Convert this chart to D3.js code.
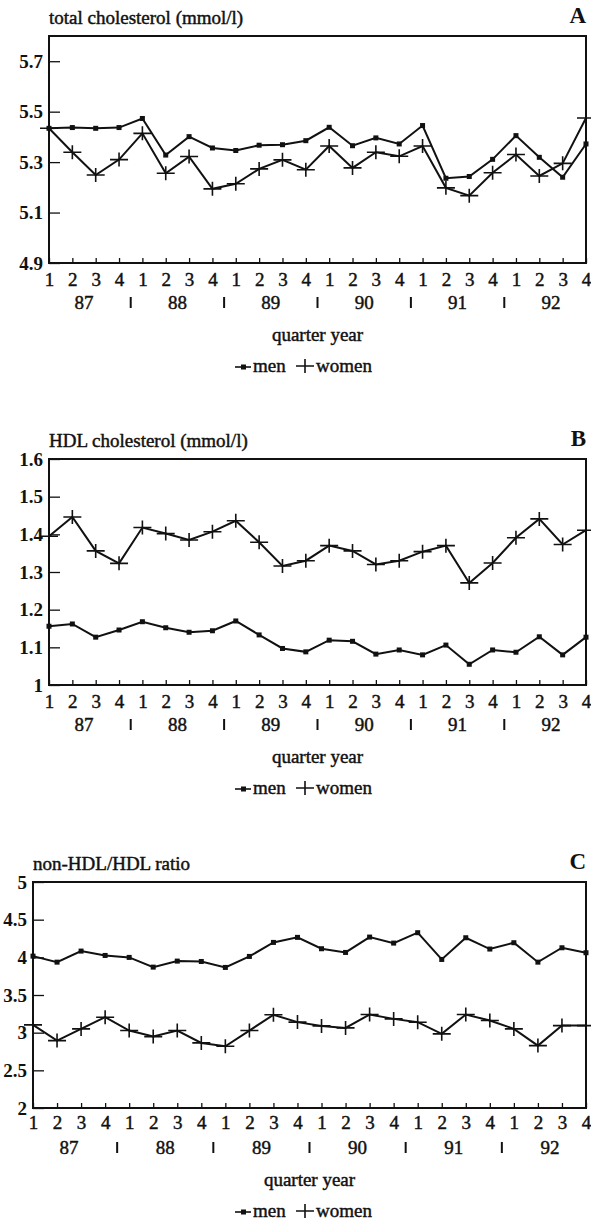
<!DOCTYPE html>
<html>
<head>
<meta charset="utf-8">
<script src="https://cdn.jsdelivr.net/npm/d3@7"></script>
<style>
  body { margin: 0; background: #fff; }
  .heavy { stroke: #111; stroke-width: 0.45px; }
</style>
</head>
<body>
<div id="chart"></div>
<script>
// Data, quarters 1987 Q1 .. 1992 Q4
var quarterLabels = ["1","2","3","4","1","2","3","4","1","2","3","4","1","2","3","4","1","2","3","4","1","2","3","4"];
var yearLabels = ["87", "88", "89", "90", "91", "92"];

var menTotal = [5.434, 5.437, 5.434, 5.437, 5.473, 5.328, 5.401, 5.356, 5.346, 5.367, 5.369, 5.385,
  5.438, 5.365, 5.396, 5.372, 5.445, 5.236, 5.243, 5.311, 5.405, 5.319, 5.240, 5.372];
var womenTotal = [5.434, 5.339, 5.249, 5.310, 5.414, 5.256, 5.322, 5.194, 5.214, 5.273, 5.309, 5.270,
  5.364, 5.277, 5.339, 5.323, 5.364, 5.198, 5.167, 5.258, 5.330, 5.245, 5.295, 5.475];

var menHDL = [1.156, 1.162, 1.127, 1.146, 1.168, 1.152, 1.140, 1.144, 1.170, 1.133, 1.097, 1.088,
  1.119, 1.116, 1.082, 1.093, 1.080, 1.106, 1.055, 1.093, 1.087, 1.128, 1.080, 1.127];
var womenHDL = [1.395, 1.446, 1.356, 1.323, 1.418, 1.402, 1.385, 1.407, 1.436, 1.379, 1.316, 1.330,
  1.370, 1.356, 1.320, 1.330, 1.354, 1.370, 1.271, 1.324, 1.391, 1.441, 1.373, 1.411];

var menRatio = [4.016, 3.936, 4.083, 4.025, 3.999, 3.870, 3.950, 3.945, 3.866, 4.012, 4.198, 4.265,
  4.114, 4.065, 4.269, 4.189, 4.327, 3.972, 4.260, 4.110, 4.194, 3.936, 4.127, 4.061];
var womenRatio = [3.104, 2.895, 3.050, 3.205, 3.028, 2.948, 3.028, 2.864, 2.819, 3.028, 3.237, 3.140,
  3.090, 3.063, 3.241, 3.183, 3.139, 2.984, 3.241, 3.161, 3.050, 2.828, 3.094, 3.094];

var totalTicks = [4.9, 5.1, 5.3, 5.5, 5.7];
var hdlTicks = [1, 1.1, 1.2, 1.3, 1.4, 1.5, 1.6];
var ratioTicks = [2, 2.5, 3, 3.5, 4, 4.5, 5];

var serif = "'Liberation Serif', 'Times New Roman', serif";
var ink = "#111";

var svgWidth = 591;
var svgHeight = 1225;

var svg = d3.select("#chart")
  .append("svg")
  .attr("width", svgWidth)
  .attr("height", svgHeight)
  .attr("font-family", serif);

// one panel = box, axes, two series, labels and legend
function drawPanel(p) {
  var x = d3.scaleLinear()
    .domain([0, quarterLabels.length - 1])
    .range([p.left, p.right]);

  var y = d3.scaleLinear()
    .domain(p.domain)
    .range([p.bottom, p.top]);

  var g = svg.append("g").attr("class", "panel");

  // title and panel letter
  g.append("text")
    .attr("class", "heavy")
    .attr("x", p.left)
    .attr("y", p.top - 12)
    .attr("font-size", 19)
    .attr("fill", ink)
    .text(p.title);

  g.append("text")
    .attr("x", p.right)
    .attr("y", p.top - 13)
    .attr("text-anchor", "end")
    .attr("font-size", 23)
    .attr("font-weight", "bold")
    .attr("fill", ink)
    .text(p.letter);

  // y axis, ticks point inwards
  var leftAxis = d3.axisLeft(y)
    .tickValues(p.ticks)
    .tickSize(-11)
    .tickPadding(6)
    .tickFormat(d3.format(p.fmt));

  var yAxis = g.append("g")
    .attr("transform", `translate(${p.left},0)`)
    .call(leftAxis)
    .attr("font-family", serif)
    .attr("font-size", 19)
    .attr("font-weight", "bold");
  yAxis.select(".domain").remove();
  yAxis.selectAll("line").attr("stroke", ink).attr("stroke-width", 1.3);
  yAxis.selectAll("text").attr("fill", ink);

  // x axis, quarter numbers
  var bottomAxis = d3.axisBottom(x)
    .tickValues(d3.range(quarterLabels.length))
    .tickSize(-5)
    .tickPadding(p.xPad)
    .tickFormat(i => quarterLabels[i]);

  var xAxis = g.append("g")
    .attr("transform", `translate(0,${p.bottom})`)
    .call(bottomAxis)
    .attr("font-family", serif)
    .attr("font-size", 19);
  xAxis.select(".domain").remove();
  xAxis.selectAll("line").attr("stroke", ink).attr("stroke-width", 1.3);
  xAxis.selectAll("text").attr("fill", ink).attr("class", "heavy");

  // frame
  g.append("rect")
    .attr("x", p.left)
    .attr("y", p.top)
    .attr("width", p.right - p.left)
    .attr("height", p.bottom - p.top)
    .attr("fill", "none")
    .attr("stroke", ink)
    .attr("stroke-width", 2);

  // years row with separators
  g.selectAll(".year")
    .data(yearLabels)
    .enter()
    .append("text")
    .attr("class", "year heavy")
    .attr("x", (d, i) => x(i * 4 + 1.5))
    .attr("y", p.bottom + 46)
    .attr("text-anchor", "middle")
    .attr("font-size", 19)
    .attr("fill", ink)
    .text(d => d);

  g.selectAll(".sep")
    .data(yearLabels.slice(1))
    .enter()
    .append("line")
    .attr("class", "sep")
    .attr("x1", (d, i) => x(i * 4 + 3.5))
    .attr("x2", (d, i) => x(i * 4 + 3.5))
    .attr("y1", p.bottom + 34)
    .attr("y2", p.bottom + 45)
    .attr("stroke", ink)
    .attr("stroke-width", 2);

  g.append("text")
    .attr("class", "heavy")
    .attr("x", (p.left + p.right) / 2)
    .attr("y", p.bottom + 78)
    .attr("text-anchor", "middle")
    .attr("font-size", 19)
    .attr("fill", ink)
    .text("quarter year");

  var line = d3.line()
    .x((d, i) => x(i))
    .y(d => y(d));

  // men: line + small squares
  g.append("path")
    .datum(p.men)
    .attr("d", line)
    .attr("fill", "none")
    .attr("stroke", ink)
    .attr("stroke-width", 2);

  g.selectAll(".menPt")
    .data(p.men)
    .enter()
    .append("rect")
    .attr("class", "menPt")
    .attr("x", (d, i) => x(i) - 2.5)
    .attr("y", d => y(d) - 2.5)
    .attr("width", 5)
    .attr("height", 5)
    .attr("fill", ink);

  // women: line + plus signs
  g.append("path")
    .datum(p.women)
    .attr("d", line)
    .attr("fill", "none")
    .attr("stroke", ink)
    .attr("stroke-width", 2);

  g.selectAll(".womenPt")
    .data(p.women)
    .enter()
    .append("path")
    .attr("class", "womenPt")
    .attr("transform", (d, i) => `translate(${x(i)},${y(d)})`)
    .attr("d", "M-9,0H9M0,-7V7")
    .attr("stroke", ink)
    .attr("stroke-width", 1.6);

  // legend
  var lg = g.append("g").attr("transform", `translate(235,${p.bottom + 109})`);
  lg.append("line")
    .attr("x1", 0).attr("x2", 16)
    .attr("y1", -5).attr("y2", -5)
    .attr("stroke", ink).attr("stroke-width", 1.6);
  lg.append("rect")
    .attr("x", 6).attr("y", -7.5)
    .attr("width", 5).attr("height", 5)
    .attr("fill", ink);
  lg.append("text")
    .attr("class", "heavy")
    .attr("x", 18).attr("y", 0)
    .attr("font-size", 19)
    .attr("fill", ink)
    .text("men");
  lg.append("path")
    .attr("transform", "translate(70,-6)")
    .attr("d", "M-9,0H9M0,-7V7")
    .attr("stroke", ink).attr("stroke-width", 1.6);
  lg.append("text")
    .attr("class", "heavy")
    .attr("x", 81).attr("y", 0)
    .attr("font-size", 19)
    .attr("fill", ink)
    .text("women");
}

drawPanel({
  title: "total cholesterol (mmol/l)", letter: "A",
  left: 49, right: 586, top: 36, bottom: 263,
  domain: [4.9, 5.8], ticks: totalTicks, fmt: ".1f",
  xPad: 10,
  men: menTotal, women: womenTotal
});

drawPanel({
  title: "HDL cholesterol (mmol/l)", letter: "B",
  left: 49, right: 586, top: 459, bottom: 685,
  domain: [1, 1.6], ticks: hdlTicks, fmt: "",
  xPad: 10,
  men: menHDL, women: womenHDL
});

drawPanel({
  title: "non-HDL/HDL ratio", letter: "C",
  left: 33, right: 586, top: 882, bottom: 1108,
  domain: [2, 5], ticks: ratioTicks, fmt: "",
  xPad: 8,
  men: menRatio, women: womenRatio
});
</script>
</body>
</html>
